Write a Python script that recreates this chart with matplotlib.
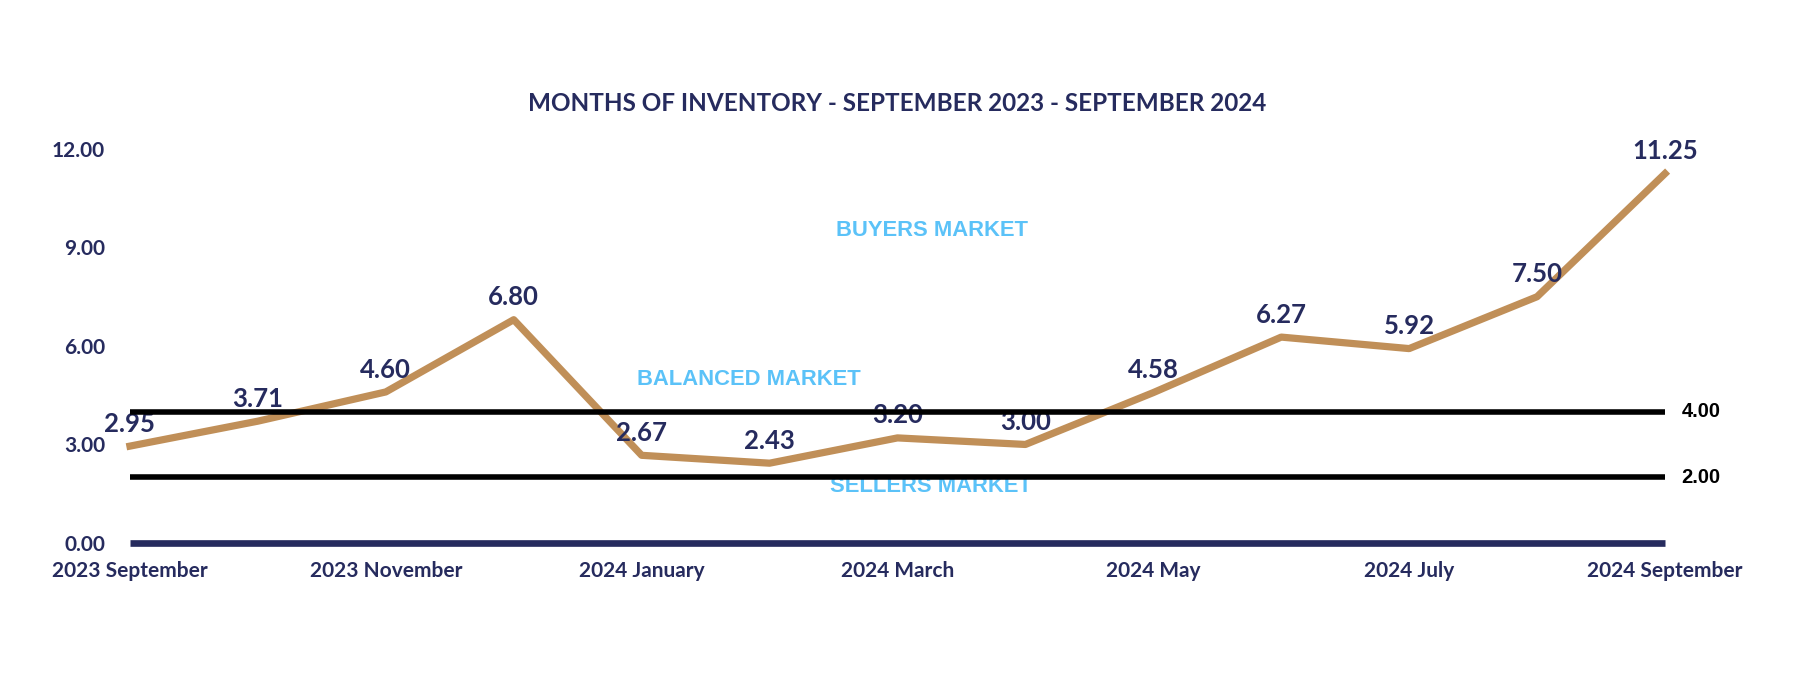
import matplotlib
matplotlib.use("Agg")
import matplotlib.pyplot as plt

# Datos
months = ["2023 September", "2023 October", "2023 November", "2023 December",
          "2024 January", "2024 February", "2024 March", "2024 April",
          "2024 May", "2024 June", "2024 July", "2024 August", "2024 September"]
inventory = [2.95, 3.71, 4.60, 6.80, 2.67, 2.43, 3.20, 3.00, 4.58, 6.27, 5.92, 7.50, 11.25]
y_ticks = [0, 3, 6, 9, 12]
thresholds = [4.00, 2.00]
zones = ["BUYERS MARKET", "BALANCED MARKET", "SELLERS MARKET"]

navy = "#262b5e"
tan = "#c08f58"
sky = "#5bc2f8"

fig = plt.figure(figsize=(18, 6.74), dpi=100)
ax = fig.add_axes([0.0722, 0.1944, 0.8528, 0.5846])

x = list(range(len(months)))
ax.plot(x, inventory, color=tan, lw=5.2, zorder=3, clip_on=False)

# etiquetas de valores
for xi, v in zip(x, inventory):
    ax.annotate(f"{v:.2f}", (xi, v), xytext=(0, 7.5), textcoords="offset points",
                ha="center", va="bottom", fontsize=18.5, fontweight="bold",
                family="Lato", color=navy, zorder=4, annotation_clip=False)

# líneas de umbral
for t in thresholds:
    ax.axhline(t, color="black", lw=4, zorder=5, solid_capstyle="butt")
    ax.annotate(f"{t:.2f}", (1, t), xycoords=("axes fraction", "data"),
                xytext=(12, 0), textcoords="offset points", ha="left", va="center",
                fontsize=14.5, fontweight="bold", family="Liberation Sans", color="black")
ax.axhline(0, color=navy, lw=4.8, zorder=5, clip_on=False, solid_capstyle="butt")

# zonas de mercado
ax.text(6.27, 9.51, zones[0], ha="center", va="center", fontsize=15.8,
        fontweight="bold", family="Liberation Sans", color=sky)
ax.text(4.84, 4.97, zones[1], ha="center", va="center", fontsize=15.8,
        fontweight="bold", family="Liberation Sans", color=sky)
ax.text(6.26, 1.71, zones[2], ha="center", va="center", fontsize=15.8,
        fontweight="bold", family="Liberation Sans", color=sky, zorder=2)

ax.set_xlim(0, len(months) - 1)
ax.set_ylim(0, 12)
ax.set_xticks(x[::2])
ax.set_xticklabels(months[::2])
ax.set_yticks(y_ticks)
ax.set_yticklabels([f"{v:.2f}" for v in y_ticks])
ax.tick_params(axis="both", length=0, colors=navy)
ax.tick_params(axis="x", pad=13)
ax.tick_params(axis="y", pad=18)
for lab in ax.get_xticklabels() + ax.get_yticklabels():
    lab.set_fontfamily("Lato")
    lab.set_fontweight("bold")
    lab.set_fontsize(15)
for s in ax.spines.values():
    s.set_visible(False)

fig.text(0.4983, 0.846, "MONTHS OF INVENTORY - SEPTEMBER 2023 - SEPTEMBER 2024",
         ha="center", va="center", fontsize=17.5, fontweight="bold", family="Lato", color=navy)

fig.savefig("out.png", dpi=100, facecolor="white")
